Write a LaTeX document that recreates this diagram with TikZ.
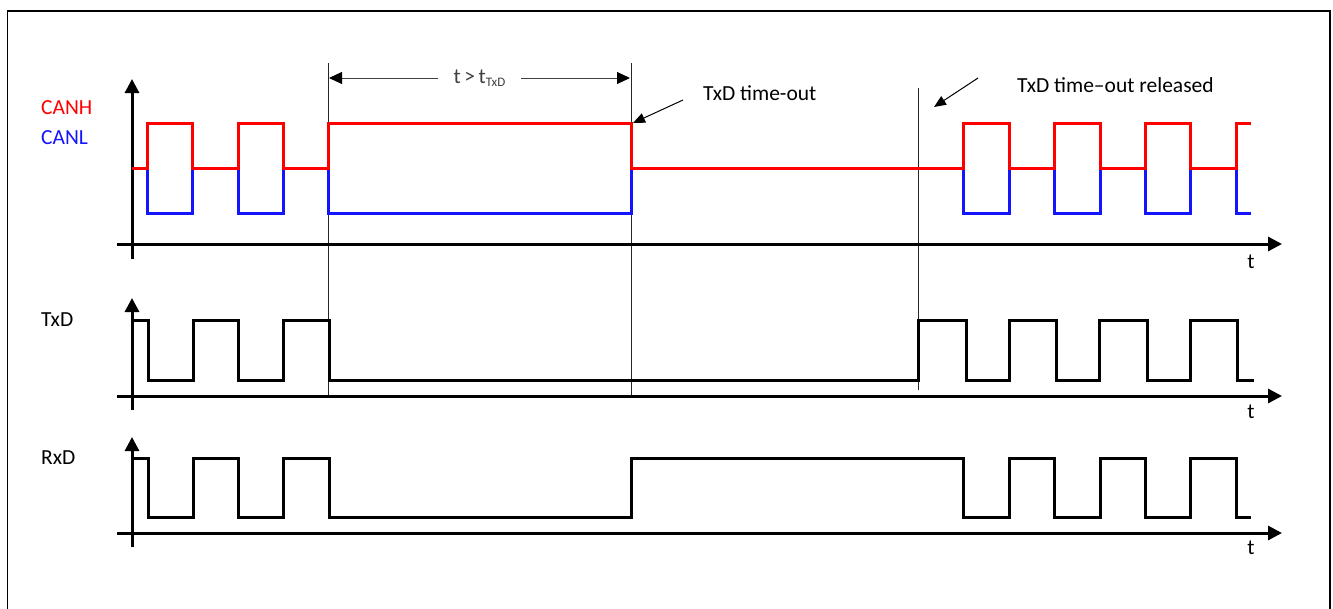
\documentclass[tikz,border=0pt]{standalone}
\usepackage{fontspec}
\setmainfont{Carlito}
\usetikzlibrary{arrows.meta}
\definecolor{canh}{RGB}{255,0,0}
\definecolor{canl}{RGB}{20,20,255}
\begin{document}
\begin{tikzpicture}[x=1pt,y=-1pt,
  lbl/.style={font=\fontsize{21.5}{25}\selectfont, inner sep=0pt},
  axis/.style={line width=3pt, -{Triangle[length=14pt,width=14pt]}},
  wave/.style={line width=3pt, line join=miter},
  guide/.style={line width=1pt, black!85},
  callout/.style={line width=1pt, -{Triangle[length=12pt,width=10pt]}},
  dimarrow/.style={line width=1pt, black!75, {Triangle[length=13pt,width=12pt,black]}-{Triangle[length=13pt,width=12pt,black]}}
]
\useasboundingbox (0,0) rectangle (1333,608);
% frame
\draw[line width=1.5pt] (7.5,612) -- (7.5,11) -- (1330,11) -- (1330,612);

% guide lines
\coordinate (g1t) at (328,63);  \coordinate (g1b) at (328,395);
\coordinate (g2t) at (631,63);  \coordinate (g2b) at (631,395);
\coordinate (g3t) at (918,88);  \coordinate (g3b) at (918,390);
\draw[guide] (g1t) -- (g1b);
\draw[guide] (g2t) -- (g2b);
\draw[guide] (g3t) -- (g3b);

% axes
\coordinate (ay1b) at (132,259); \coordinate (ay1t) at (132,79);
\coordinate (ax1l) at (117,244); \coordinate (ax1r) at (1282,244);
\coordinate (ay2b) at (132,410); \coordinate (ay2t) at (132,298);
\coordinate (ax2l) at (117,396); \coordinate (ax2r) at (1282,396);
\coordinate (ay3b) at (132,547); \coordinate (ay3t) at (132,437);
\coordinate (ax3l) at (117,533); \coordinate (ax3r) at (1282,533);
\draw[axis] (ay1b) -- (ay1t);
\draw[axis] (ax1l) -- (ax1r);
\draw[axis] (ay2b) -- (ay2t);
\draw[axis] (ax2l) -- (ax2r);
\draw[axis] (ay3b) -- (ay3t);
\draw[axis] (ax3l) -- (ax3r);

% CANL (blue)
\draw[wave, canl] (132,168) -- (147,168) -- (147,213) -- (192,213) -- (192,168) -- (238,168) -- (238,213) -- (283,213) -- (283,168) -- (328,168) -- (328,213) -- (631,213) -- (631,168) -- (963,168) -- (963,213) -- (1009,213) -- (1009,168) -- (1054,168) -- (1054,213) -- (1100,213) -- (1100,168) -- (1145,168) -- (1145,213) -- (1190,213) -- (1190,168) -- (1236,168) -- (1236,213) -- (1251,213);
% CANH (red)
\draw[wave, canh] (132,168) -- (147,168) -- (147,123) -- (192,123) -- (192,168) -- (238,168) -- (238,123) -- (283,123) -- (283,168) -- (328,168) -- (328,123) -- (631,123) -- (631,168) -- (963,168) -- (963,123) -- (1009,123) -- (1009,168) -- (1054,168) -- (1054,123) -- (1100,123) -- (1100,168) -- (1145,168) -- (1145,123) -- (1190,123) -- (1190,168) -- (1236,168) -- (1236,123) -- (1251,123);

% TxD
\draw[wave] (132,320) -- (148,320) -- (148,380) -- (193,380) -- (193,320) -- (238,320) -- (238,380) -- (283,380) -- (283,320) -- (329,320) -- (329,380) -- (918,380) -- (918,320) -- (966,320) -- (966,380) -- (1009,380) -- (1009,320) -- (1056,320) -- (1056,380) -- (1099,380) -- (1099,320) -- (1147,320) -- (1147,380) -- (1190,380) -- (1190,320) -- (1237,320) -- (1237,380) -- (1254,380);

% RxD
\draw[wave] (132,458) -- (148,458) -- (148,517) -- (193,517) -- (193,458) -- (238,458) -- (238,517) -- (283,517) -- (283,458) -- (329,458) -- (329,517) -- (631,517) -- (631,458) -- (963,458) -- (963,517) -- (1009,517) -- (1009,458) -- (1054,458) -- (1054,517) -- (1100,517) -- (1100,458) -- (1145,458) -- (1145,517) -- (1190,517) -- (1190,458) -- (1236,458) -- (1236,517) -- (1251,517);

% labels
\node[lbl, anchor=west, text=canh] (canhL) at (41,108) {CANH};
\node[lbl, anchor=west, text=canl] (canlL) at (41,138) {CANL};
\node[lbl, anchor=west] (txdL) at (41,320) {TxD};
\node[lbl, anchor=west] (rxdL) at (41,458) {RxD};
\node[lbl] (t1) at (1251,262) {t};
\node[lbl] (t2) at (1251,412) {t};
\node[lbl] (t3) at (1251,548) {t};

% dimension arrow
\coordinate (d1) at (329,78);
\coordinate (d2) at (630,78);
\draw[dimarrow] (d1) -- (d2) node[midway, lbl, fill=white, inner xsep=16pt, inner ysep=2pt] (dimL) {t\,>\,t\raisebox{-0.35ex}{\fontsize{13}{15}\selectfont TxD}};

% call-outs
\node[lbl, anchor=west] (toL) at (703,93) {TxD time-out};
\coordinate (c1s) at (683,100); \coordinate (c1e) at (633,123);
\draw[callout] (c1s) -- (c1e);
\node[lbl, anchor=west] (trL) at (1017,85) {TxD time–out released};
\coordinate (c2s) at (978,78); \coordinate (c2e) at (934,107);
\draw[callout] (c2s) -- (c2e);
\end{tikzpicture}
\end{document}
